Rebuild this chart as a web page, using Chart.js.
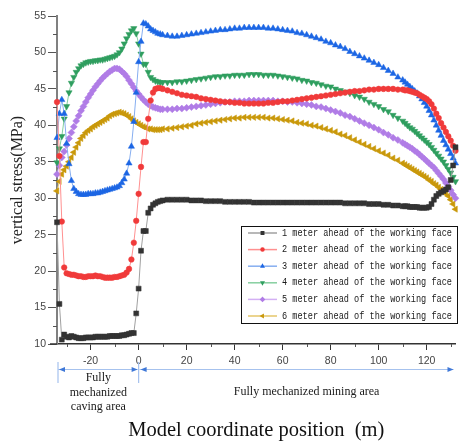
<!DOCTYPE html>
<html>
<head>
<meta charset="utf-8">
<script src="https://cdn.jsdelivr.net/npm/chart.js@4.4.1/dist/chart.umd.min.js"></script>
<style>
  html, body { margin: 0; padding: 0; background: #fff; }
  #wrap { width: 460px; height: 441px; }
</style>
</head>
<body>
<div id="wrap"><canvas id="stressChart" width="460" height="441"></canvas></div>
<script>
// model coordinate (m) of each sample
const positions = [
  -34,-33,-32,-31,-30,-29,-28,-27,-26,-25,-24,-23,-22,-21,-20,-19,-18,-17,-16,-15,
  -14,-13,-12,-11,-10,-9,-8,-7,-6,-5,-4,-3,-2,-1,0,1,2,3,4,5,6,7,8,9,10,
  12,14,16,18,20,22,24,26,28,30,32,34,36,38,40,42,44,46,48,50,
  52,54,56,58,60,62,64,66,68,70,72,74,76,78,80,82,84,86,88,90,
  92,94,96,98,100,102,104,106,108,110,
  111,112,113,114,115,116,117,118,119,120,121,122,123,124,125,126,127,128,129,130,131,132
];

// vertical stress (MPa)
const stress1m = [
  26.7,15.5,10.6,11.3,11.0,10.9,11.1,11.0,10.9,10.8,10.8,10.8,10.9,10.9,10.9,10.9,11.0,11.0,11.0,11.0,
  11.0,11.0,11.1,11.1,11.1,11.1,11.1,11.2,11.2,11.3,11.4,11.5,11.5,14.2,17.6,22.8,25.5,25.5,28.0,28.6,29.1,29.3,29.5,29.6,29.7,
  29.8,29.8,29.8,29.8,29.8,29.7,29.7,29.7,29.6,29.6,29.6,29.6,29.5,29.5,29.5,29.5,29.5,29.5,29.4,29.4,
  29.4,29.4,29.4,29.4,29.4,29.4,29.4,29.4,29.4,29.4,29.4,29.4,29.4,29.4,29.4,29.4,29.4,29.3,29.3,29.3,
  29.3,29.3,29.2,29.2,29.2,29.1,29.1,29.0,29.0,28.9,
  28.9,28.9,28.8,28.8,28.8,28.8,28.7,28.7,28.7,28.7,28.8,29.2,29.8,30.3,30.6,30.8,31.0,31.2,31.5,32.5,34.5,37.0
];
const stress2m = [
  43.2,35.8,26.8,20.5,19.7,19.6,19.5,19.5,19.4,19.3,19.3,19.2,19.2,19.3,19.3,19.3,19.4,19.3,19.3,19.2,
  19.1,19.1,19.1,19.1,19.2,19.2,19.3,19.4,19.5,19.8,20.3,21.6,23.9,26.9,30.6,34.3,37.7,37.7,40.9,43.4,44.5,45.0,45.1,45.1,45.0,
  44.8,44.6,44.4,44.2,44.1,44.0,43.9,43.7,43.6,43.5,43.4,43.3,43.2,43.2,43.1,43.1,43.0,43.0,43.0,43.0,
  43.0,43.1,43.1,43.2,43.3,43.3,43.4,43.5,43.6,43.7,43.8,43.9,44.0,44.1,44.2,44.3,44.4,44.5,44.6,44.7,
  44.7,44.8,44.9,44.9,45.0,45.0,45.0,45.0,44.9,44.9,
  44.8,44.8,44.7,44.6,44.5,44.4,44.2,44.0,43.8,43.6,43.3,42.9,42.3,41.6,41.0,40.3,39.7,39.1,38.5,37.9,37.2,36.5
];
const stress3m = [
  38.3,41.6,43.5,41.6,37.5,34.7,32.4,31.3,30.9,30.6,30.5,30.5,30.5,30.6,30.6,30.6,30.7,30.7,30.8,30.9,
  31.0,31.1,31.2,31.3,31.4,31.5,31.7,32.1,32.6,33.4,34.8,37.1,40.5,44.5,48.7,51.5,54.0,53.9,53.6,53.2,53.0,52.8,52.6,52.5,52.4,
  52.3,52.2,52.2,52.3,52.4,52.5,52.6,52.7,52.8,52.9,53.0,53.1,53.1,53.2,53.3,53.3,53.4,53.4,53.4,53.4,
  53.4,53.3,53.3,53.2,53.1,53.0,52.9,52.7,52.6,52.4,52.2,52.0,51.8,51.5,51.3,51.0,50.8,50.5,50.1,49.8,
  49.5,49.2,48.9,48.6,48.3,47.9,47.5,47.1,46.6,46.2,
  45.9,45.6,45.3,45.0,44.7,44.4,44.0,43.6,43.1,42.6,42.0,41.4,40.7,40.0,39.3,38.6,37.9,37.3,36.7,36.1,35.5,34.8
];
const stress4m = [
  34.9,36.8,38.5,40.9,42.6,44.5,45.8,46.6,47.3,47.8,48.2,48.4,48.6,48.7,48.8,48.8,48.9,48.9,49.0,49.0,
  49.1,49.2,49.3,49.4,49.5,49.7,50.0,50.5,51.2,51.9,52.5,53.0,53.3,52.6,51.2,49.8,48.4,48.4,47.3,46.6,46.3,46.1,46.0,45.9,45.9,
  45.9,45.9,46.0,46.0,46.1,46.2,46.3,46.4,46.5,46.6,46.7,46.7,46.8,46.8,46.9,46.9,46.9,47.0,47.0,47.0,
  46.9,46.9,46.9,46.8,46.7,46.6,46.5,46.4,46.2,46.1,45.9,45.8,45.6,45.4,45.3,45.0,44.8,44.6,44.4,44.1,
  43.9,43.6,43.2,42.9,42.6,42.2,41.9,41.4,41.0,40.6,
  40.3,40.0,39.7,39.5,39.2,38.9,38.6,38.3,38.0,37.7,37.4,37.0,36.6,36.2,35.8,35.4,35.0,34.5,34.0,33.5,32.9,32.3
];
const stress5m = [
  33.3,34.5,35.6,36.4,37.3,38.2,39.0,39.8,40.6,41.3,42.0,42.6,43.2,43.8,44.3,44.8,45.3,45.7,46.1,46.5,
  46.8,47.1,47.4,47.6,47.8,47.8,47.7,47.4,47.1,46.7,46.2,45.7,45.2,44.7,44.3,43.9,43.5,43.2,42.9,42.7,42.5,42.4,42.3,42.2,42.2,
  42.2,42.2,42.3,42.3,42.4,42.5,42.6,42.7,42.8,42.9,43.0,43.1,43.2,43.2,43.3,43.3,43.3,43.4,43.4,43.4,
  43.4,43.4,43.4,43.3,43.3,43.2,43.2,43.1,43.0,42.9,42.8,42.6,42.5,42.3,42.1,41.9,41.7,41.4,41.2,40.9,
  40.6,40.3,40.0,39.7,39.4,39.0,38.7,38.3,38.0,37.6,
  37.4,37.2,37.0,36.8,36.5,36.3,36.0,35.7,35.4,35.1,34.8,34.5,34.2,33.8,33.4,33.0,32.6,32.1,31.6,31.1,30.5,30.0
];
const stress6m = [
  31.0,32.3,33.3,33.9,34.4,35.0,35.6,36.3,37.0,37.6,38.2,38.6,39.0,39.3,39.5,39.8,40.0,40.2,40.4,40.6,
  40.8,41.0,41.3,41.5,41.6,41.7,41.8,41.7,41.6,41.4,41.2,40.9,40.6,40.4,40.2,40.0,39.8,39.7,39.5,39.5,39.4,39.4,39.4,39.4,39.5,
  39.5,39.6,39.7,39.8,39.9,40.0,40.2,40.3,40.4,40.5,40.6,40.7,40.8,40.9,41.0,41.0,41.1,41.1,41.1,41.1,
  41.1,41.0,41.0,40.9,40.8,40.7,40.6,40.4,40.3,40.2,40.0,39.9,39.7,39.5,39.3,39.1,38.8,38.6,38.3,38.0,
  37.7,37.4,37.1,36.8,36.5,36.2,35.9,35.5,35.2,34.8,
  34.6,34.4,34.2,34.0,33.8,33.6,33.4,33.2,33.0,32.8,32.5,32.3,32.0,31.8,31.5,31.2,31.0,30.6,30.3,29.8,29.2,28.5
];

const seriesLabels = [
  '1 meter ahead of the working face',
  '2 meter ahead of the working face',
  '3 meter ahead of the working face',
  '4 meter ahead of the working face',
  '5 meter ahead of the working face',
  '6 meter ahead of the working face'
];
const seriesValues = [stress1m, stress2m, stress3m, stress4m, stress5m, stress6m];

const xTickValues = [-20, 0, 20, 40, 60, 80, 100, 120];
const xMinorTicks = [-30, -10, 10, 30, 50, 70, 90, 110, 130];
const yTickValues = [10, 15, 20, 25, 30, 35, 40, 45, 50, 55];
const yMinorTicks = [12.5, 17.5, 22.5, 27.5, 32.5, 37.5, 42.5, 47.5, 52.5];
const cavingLabel = ['Fully', 'mechanized', 'caving area'];
const miningLabel = 'Fully mechanized mining area';

// marker colour, line colour, marker shape
const styles = [
  { marker: '#333333', line: '#a0a0a0', shape: 'rect', r: 3.5, rot: 0 },
  { marker: '#f03a3a', line: '#ff9090', shape: 'circle', r: 2.8, rot: 0 },
  { marker: '#1c66e4', line: '#86aef0', shape: 'triangle', r: 3.6, rot: 0 },
  { marker: '#2f9e5f', line: '#86cfa0', shape: 'triangle', r: 3.6, rot: 180 },
  { marker: '#b07ce6', line: '#d3b0f4', shape: 'rectRot', r: 3.5, rot: 0 },
  { marker: '#c9980a', line: '#e4c66a', shape: 'triangle', r: 3.6, rot: 270 }
];

const datasets = seriesValues.map((vals, i) => ({
  label: seriesLabels[i],
  data: positions.map((x, k) => ({ x: x, y: vals[k] })),
  borderColor: styles[i].line,
  borderWidth: 1,
  backgroundColor: styles[i].marker,
  pointBackgroundColor: styles[i].marker,
  pointBorderColor: styles[i].marker,
  pointBorderWidth: 0.5,
  pointStyle: styles[i].shape,
  pointRotation: styles[i].rot,
  pointRadius: styles[i].r,
  tension: 0,
  clip: 4
}));

// minor ticks, region arrows and labels under the x axis
const axisExtras = {
  id: 'axisExtras',
  afterDraw(chart) {
    const ctx = chart.ctx;
    const xs = chart.scales.x, ys = chart.scales.y;
    const area = chart.chartArea;
    ctx.save();
    ctx.strokeStyle = '#555';
    ctx.lineWidth = 1;
    ctx.beginPath();
    yMinorTicks.forEach(v => {
      const y = Math.round(ys.getPixelForValue(v)) + 0.5;
      ctx.moveTo(area.left - 4, y); ctx.lineTo(area.left, y);
    });
    xMinorTicks.forEach(v => {
      const x = Math.round(xs.getPixelForValue(v)) + 0.5;
      ctx.moveTo(x, area.bottom); ctx.lineTo(x, area.bottom + 3);
    });
    ctx.stroke();
    ctx.strokeStyle = '#333';
    ctx.lineWidth = 1.5;
    ctx.beginPath();
    ctx.moveTo(50, area.bottom); ctx.lineTo(area.left, area.bottom);
    ctx.stroke();

    const xa = xs.getPixelForValue(xs.min) + 1;
    const x0 = xs.getPixelForValue(0);
    const xb = area.right - 2;
    const ay = 369.5;
    ctx.strokeStyle = '#a6c2ee';
    ctx.lineWidth = 1.2;
    ctx.beginPath();
    ctx.moveTo(xa, 362); ctx.lineTo(xa, 383);
    ctx.moveTo(x0, 362); ctx.lineTo(x0, 383);
    ctx.moveTo(xa, ay); ctx.lineTo(x0 - 1, ay);
    ctx.moveTo(x0 + 1, ay); ctx.lineTo(xb, ay);
    ctx.stroke();
    ctx.fillStyle = '#3f78d8';
    const head = (tipX, dir) => {
      ctx.beginPath();
      ctx.moveTo(tipX, ay);
      ctx.lineTo(tipX - dir * 6, ay - 2.5);
      ctx.lineTo(tipX - dir * 6, ay + 2.5);
      ctx.closePath();
      ctx.fill();
    };
    head(xa + 1, -1); head(x0 - 1, 1); head(x0 + 2, -1); head(xb, 1);

    ctx.fillStyle = '#1a1a1a';
    ctx.textAlign = 'center';
    ctx.textBaseline = 'middle';
    ctx.font = '12px "Liberation Serif"';
    const cx = (xa + x0) / 2;
    cavingLabel.forEach((t, i) => ctx.fillText(t, cx, 378 + i * 14.5));
    ctx.fillText(miningLabel, x0 + 168, 391.5);
    ctx.restore();
  }
};

// framed legend inside the plot, lower right
const boxLegend = {
  id: 'boxLegend',
  afterDraw(chart) {
    const ctx = chart.ctx;
    const left = 241, top = 226, w = 216, h = 97;
    ctx.save();
    ctx.fillStyle = '#fff';
    ctx.fillRect(left, top, w, h);
    ctx.strokeStyle = '#111';
    ctx.lineWidth = 1;
    ctx.strokeRect(left + 0.5, top + 0.5, w, h);
    ctx.font = '10px "Liberation Mono"';
    ctx.textBaseline = 'middle';
    ctx.textAlign = 'left';
    chart.data.datasets.forEach((ds, i) => {
      const y = top + 7 + i * 16.6;
      ctx.strokeStyle = ds.borderColor;
      ctx.lineWidth = 1.5;
      ctx.beginPath();
      ctx.moveTo(248, y); ctx.lineTo(277, y);
      ctx.stroke();
      ctx.fillStyle = ds.pointBackgroundColor;
      Chart.helpers.drawPoint(ctx, { pointStyle: ds.pointStyle, rotation: ds.pointRotation, radius: ds.pointRadius * 0.8, borderWidth: 0 }, 262.5, y);
      ctx.fillStyle = '#1a1a1a';
      ctx.fillText(ds.label, 282, y, 170);
    });
    ctx.restore();
  }
};

new Chart(document.getElementById('stressChart'), {
  type: 'line',
  data: { datasets: datasets },
  plugins: [axisExtras, boxLegend],
  options: {
    responsive: false,
    animation: false,
    layout: { padding: { top: 16, right: 0, bottom: 0, left: 0 } },
    plugins: { legend: { display: false }, tooltip: { enabled: false } },
    scales: {
      x: {
        type: 'linear',
        min: -34,
        max: 132,
        afterBuildTicks: s => { s.ticks = xTickValues.map(v => ({ value: v })); },
        afterFit: s => { s.height = 97; },
        grid: { drawOnChartArea: false, tickLength: 6, tickColor: '#333' },
        border: { color: '#333', width: 1.5 },
        ticks: { color: '#444', font: { family: 'Liberation Sans', size: 10.5 }, padding: 5, maxRotation: 0 },
        title: {
          display: true, text: 'Model coordinate position  (m)', color: '#111',
          font: { family: 'Liberation Serif', size: 20.5 }, padding: { top: 0, bottom: -2 }
        }
      },
      y: {
        min: 10,
        max: 55,
        afterBuildTicks: s => { s.ticks = yTickValues.map(v => ({ value: v })); },
        afterFit: s => { s.width = 57; },
        grid: { drawOnChartArea: false, tickLength: 9, tickColor: '#555' },
        border: { color: '#808080', width: 2 },
        ticks: { color: '#444', font: { family: 'Liberation Sans', size: 10.5 }, padding: 2 },
        title: {
          display: true, text: 'vertical stress(MPa)', color: '#222',
          font: { family: 'Liberation Serif', size: 16 }, padding: { top: 8, bottom: 0 }
        }
      }
    }
  }
});
</script>
</body>
</html>
